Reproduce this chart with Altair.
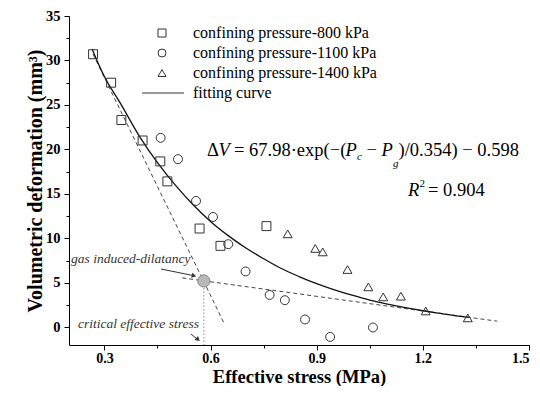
import altair as alt
import pandas as pd

FONT = "Liberation Serif, Times New Roman, serif"

# ---- data ----
series_names = ["confining pressure-800 kPa", "confining pressure-1100 kPa",
                "confining pressure-1400 kPa", "fitting curve"]

sq_x = [0.268, 0.319, 0.348, 0.408, 0.458, 0.478, 0.569, 0.628, 0.758]
sq_y = [30.7, 27.5, 23.3, 21.0, 18.65, 16.4, 11.1, 9.15, 11.37]

ci_x = [0.459, 0.508, 0.559, 0.607, 0.650, 0.699, 0.767, 0.810, 0.867, 0.938, 1.059]
ci_y = [21.3, 18.9, 14.2, 12.4, 9.34, 6.27, 3.63, 3.04, 0.87, -1.09, -0.03]

tr_x = [0.818, 0.896, 0.917, 0.987, 1.046, 1.088, 1.138, 1.208, 1.327]
tr_y = [10.5, 8.86, 8.47, 6.49, 4.54, 3.41, 3.49, 1.83, 1.05]

curve_x = [0.265, 0.30, 0.345, 0.40, 0.45, 0.50, 0.55, 0.60, 0.65, 0.70, 0.75, 0.80,
           0.85, 0.90, 0.95, 1.00, 1.05, 1.10, 1.15, 1.20, 1.25, 1.30, 1.33]
curve_y = [31.3, 28.2, 25.2, 21.4, 18.5, 16.0, 13.8, 11.9, 10.3, 8.9, 7.7, 6.6,
           5.7, 4.9, 4.2, 3.6, 3.05, 2.6, 2.2, 1.85, 1.55, 1.25, 1.1]

steep_x = [0.268, 0.640]
steep_y = [30.7, 0.3]
flat_x = [0.52, 1.41]
flat_y = [5.55, 0.68]

crit_x = [0.581]
crit_y = [5.2]
y_min = -2.0

x_ticks = [0.3, 0.45, 0.6, 0.75, 0.9, 1.05, 1.2, 1.35, 1.5]
y_ticks = [0, 2.5, 5, 7.5, 10, 12.5, 15, 17.5, 20, 22.5, 25, 27.5, 30, 32.5, 35]

# ---- tables ----
pts = pd.concat([
    pd.DataFrame({"x": sq_x, "y": sq_y, "series": series_names[0]}),
    pd.DataFrame({"x": ci_x, "y": ci_y, "series": series_names[1]}),
    pd.DataFrame({"x": tr_x, "y": tr_y, "series": series_names[2]}),
], ignore_index=True)
curve = pd.DataFrame({"x": curve_x, "y": curve_y})
dashed = pd.concat([
    pd.DataFrame({"x": steep_x, "y": steep_y, "seg": "a"}),
    pd.DataFrame({"x": flat_x, "y": flat_y, "seg": "b"}),
], ignore_index=True)
crit = pd.DataFrame({"x": crit_x, "y": crit_y})
drop = pd.DataFrame({"x": crit_x * 2, "y": [crit_y[0], y_min]})
one = pd.DataFrame({"a": [0]})

major_x = "round(datum.value*10) % 3 === 0"
major_y = "datum.value % 5 === 0"

axis_common = dict(
    labelFont=FONT, labelFontWeight="bold", labelColor="black",
    titleFont=FONT, titleFontWeight="bold", titleColor="black",
    domainColor="black", tickColor="black", domainWidth=1, tickWidth=1, grid=False,
)

xenc = alt.X("x:Q", scale=alt.Scale(domain=[0.2, 1.5], nice=False, zero=False),
             axis=alt.Axis(values=x_ticks, title="Effective stress (MPa)",
                           labelExpr=f"{major_x} ? format(datum.value, '.1f') : ''",
                           tickSize={"condition": {"test": major_x, "value": 5}, "value": 3},
                           labelPadding=1, labelFontSize=14, titleFontSize=18.5, titleY=37,
                           titleBaseline="alphabetic", **axis_common))
yenc = alt.Y("y:Q", scale=alt.Scale(domain=[y_min, 35], nice=False, zero=False),
             axis=alt.Axis(values=y_ticks, title="Volumetric deformation (mm³)",
                           labelExpr=f"{major_y} ? datum.value : ''",
                           tickSize={"condition": {"test": major_y, "value": 5}, "value": 3},
                           labelPadding=4, labelFontSize=14.5, titleFontSize=20, titleX=-28,
                           titleBaseline="alphabetic", **axis_common))

dash_layer = alt.Chart(dashed).mark_line(color="#444", strokeWidth=1, strokeDash=[4, 3]).encode(
    x=xenc, y=yenc, detail="seg:N")
drop_layer = alt.Chart(drop).mark_line(color="#888", strokeWidth=1, strokeDash=[1.5, 2]).encode(
    x=xenc, y=yenc)
curve_layer = alt.Chart(curve).mark_line(color="#111", strokeWidth=1.3, interpolate="monotone").encode(
    x=xenc, y=yenc)
pt_layer = alt.Chart(pts).mark_point(filled=False, color="#333", strokeWidth=1, size=80, opacity=1).encode(
    x=xenc, y=yenc,
    shape=alt.Shape("series:N",
                    scale=alt.Scale(domain=series_names,
                                    range=["square", "circle", "triangle-up", "M-5,0L5.5,0"]),
                    legend=alt.Legend(title=None, orient="none", legendX=85, legendY=9,
                                      labelFont=FONT, labelFontSize=16, labelColor="black",
                                      labelLimit=400, symbolSize=64, symbolStrokeWidth=1,
                                      symbolStrokeColor="#333", labelOffset=23, rowPadding=4,
                                      padding=0)))
dot_layer = alt.Chart(crit).mark_circle(size=150, color="#b8b8b8", stroke="#888", strokeWidth=1,
                                         opacity=1).encode(x=xenc, y=yenc)

OX, OY = 69, 16


def txt(s, x, y, size=18.5, style="normal", color="black"):
    return alt.Chart(one).mark_text(text=s, align="left", baseline="alphabetic", font=FONT,
                                    fontSize=size, fontStyle=style, color=color).encode(
        x=alt.value(x - OX), y=alt.value(y - OY))


def seg(x1, y1, x2, y2):
    return alt.Chart(one).mark_rule(color="#333", strokeWidth=1).encode(
        x=alt.value(x1 - OX), y=alt.value(y1 - OY), x2=alt.value(x2 - OX), y2=alt.value(y2 - OY))


def head(x, y, ang):
    return alt.Chart(one).mark_point(shape="triangle-right", filled=True, color="#333", size=28,
                                     angle=ang, opacity=1).encode(
        x=alt.value(x - OX), y=alt.value(y - OY))


eq_base = 155.5
texts = [
    txt("Δ", 207, eq_base), txt("V", 218.5, eq_base, style="italic"),
    txt("= 67.98·exp(−(", 234, eq_base),
    txt("P", 345.5, eq_base, style="italic"),
    txt("c", 357, 160, size=11, style="italic"),
    txt("−", 366.5, eq_base),
    txt("P", 381.5, eq_base, style="italic"),
    txt("g", 393, 167, size=11, style="italic"),
    txt(")/0.354) − 0.598", 398.5, eq_base),
    txt("R", 408, 195.5, style="italic"), txt("2", 419.5, 187, size=11),
    txt("= 0.904", 428, 195.5),
    txt("gas induced-dilatancy", 71, 262.5, size=13.5, style="italic", color="#333"),
    txt("critical effective stress", 78, 327.5, size=13.5, style="italic", color="#333"),
    seg(161, 269, 193, 275.5), head(194, 275.7, 11),
    seg(191, 334, 197, 339), head(198, 339.5, 40),
]

chart = alt.layer(dash_layer, drop_layer, curve_layer, pt_layer, dot_layer, *texts).properties(
    width=460, height=329,
    autosize=alt.AutoSizeParams(type="none"),
    padding={"left": 61, "top": 8, "right": 3, "bottom": 41},
).configure_view(stroke=None)

chart.save("out.html", embed_options={"renderer": "svg", "actions": False})
